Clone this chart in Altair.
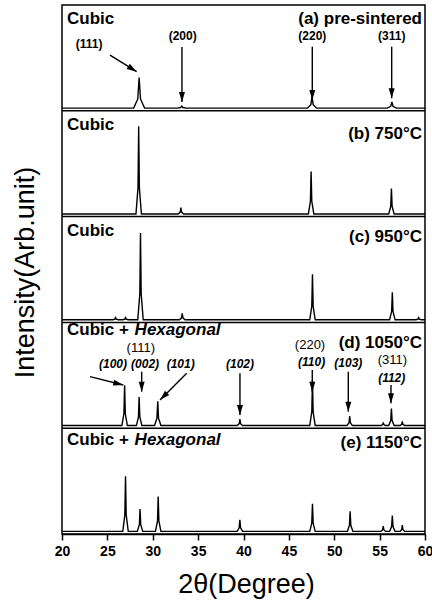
import math
import altair as alt
import pandas as pd

# ---------------- data ----------------
X_MIN, X_MAX = 20, 60
tick_values = [20, 22.5, 25, 27.5, 30, 32.5, 35, 37.5, 40, 42.5, 45,
               47.5, 50, 52.5, 55, 57.5, 60]

# panel index 0 = bottom (e) ... 4 = top (a); each panel spans 100 intensity units
panel_offsets = [0, 100, 200, 300, 400]
divider_levels = [100, 200, 300, 400]
baseline_level = 2.5

# (e) 1150 C
pos_e = [27.0, 28.6, 30.6, 39.6, 47.6, 51.75, 55.4, 56.4, 57.5]
hgt_e = [52, 21, 33, 11, 26, 19, 5, 15, 6]
wid_e = [0.3, 0.3, 0.3, 0.3, 0.3, 0.3, 0.25, 0.3, 0.25]
# (d) 1050 C
pos_d = [26.9, 28.5, 30.55, 39.6, 47.6, 51.7, 55.4, 56.3, 57.5]
hgt_d = [38, 27, 23, 6, 43, 9, 3, 16, 4]
wid_d = [0.3, 0.3, 0.35, 0.3, 0.3, 0.3, 0.25, 0.3, 0.25]
# (c) 950 C
pos_c = [25.9, 27.0, 28.65, 33.25, 47.6, 56.4, 59.3]
hgt_c = [2, 2, 82, 6, 43, 26, 2]
wid_c = [0.3, 0.3, 0.3, 0.3, 0.3, 0.3, 0.3]
# (b) 750 C
pos_b = [28.45, 33.1, 47.45, 56.3]
hgt_b = [83, 6, 40, 24]
wid_b = [0.3, 0.3, 0.3, 0.3]
# (a) pre-sintered
pos_a = [28.5, 33.2, 47.55, 56.35]
hgt_a = [29, 2, 11, 6]
wid_a = [0.6, 0.5, 0.5, 0.5]

peak_sets = [(pos_e, hgt_e, wid_e), (pos_d, hgt_d, wid_d), (pos_c, hgt_c, wid_c),
             (pos_b, hgt_b, wid_b), (pos_a, hgt_a, wid_a)]

# panel labels (data coords)
left_text = ["Cubic", "Cubic", "Cubic", "Cubic +", "Cubic +"]
left_x = [20.55, 20.55, 20.55, 20.55, 20.55]
left_y = [486.3, 386.6, 286.7, 192.8, 88.8]
hex_text = ["Hexagonal", "Hexagonal"]
hex_x = [28.0, 28.0]
hex_y = [192.8, 88.8]
right_text = ["(a) pre-sintered", "(b) 750°C", "(c) 950°C", "(d) 1050°C", "(e) 1150°C"]
right_x = [59.67, 59.67, 59.67, 59.67, 59.67]
right_y = [486.8, 378.1, 281.0, 180.2, 85.7]

# cubic indices, panel (a)
cub_a_text = ["(111)", "(200)", "(220)", "(311)"]
cub_a_x = [22.98, 33.3, 47.58, 56.33]
cub_a_y = [463.0, 471.0, 471.0, 471.0]
# cubic indices, panel (d)
cub_d_text = ["(111)", "(220)", "(311)"]
cub_d_x = [28.68, 47.33, 56.4]
cub_d_y = [175.5, 178.6, 164.5]
# hexagonal indices, panel (d)
hex_d_text = ["(100)", "(002)", "(101)", "(102)", "(110)", "(103)", "(112)"]
hex_d_x = [25.62, 29.15, 33.08, 39.61, 47.51, 51.55, 56.33]
hex_d_y = [160.4, 160.4, 160.4, 160.4, 162.3, 161.3, 147.2]

# arrows (start -> tip), data coords
arr_x1 = [25.29, 33.22, 47.58, 56.33, 23.09, 28.78, 33.74, 39.61, 47.58, 51.55, 56.25]
arr_y1 = [452.7, 460.3, 460.6, 460.6, 148.7, 153.4, 151.9, 151.9, 155.0, 153.4, 140.8]
arr_x2 = [28.23, 33.22, 47.58, 56.33, 26.75, 28.78, 30.80, 39.61, 47.58, 51.55, 56.25]
arr_y2 = [437.0, 408.3, 410.2, 411.8, 140.8, 134.5, 126.7, 112.5, 134.5, 115.6, 123.5]

# ---------------- tables ----------------
rows = []
for i, (pos, hgt, wid) in enumerate(peak_sets):
    off = panel_offsets[i] + baseline_level
    pts = [(X_MIN, off)]
    for p, h, w in sorted(zip(pos, hgt, wid)):
        pts += [(p - w, off), (p - w / 4, off + 0.3 * h), (p, off + h),
                (p + w / 4, off + 0.3 * h), (p + w, off)]
    pts.append((X_MAX, off))
    for k, (x, y) in enumerate(pts):
        rows.append({"panel": i, "order": k, "x": x, "y": y})
line_df = pd.DataFrame(rows)

W, H = 363, 529
px_per_x = W / (X_MAX - X_MIN)
px_per_y = H / 500.0
arr_rows = []
for x1, y1, x2, y2 in zip(arr_x1, arr_y1, arr_x2, arr_y2):
    dx = (x2 - x1) * px_per_x
    dy = -(y2 - y1) * px_per_y
    ang = math.degrees(math.atan2(-dx, dy)) % 360
    arr_rows.append({"x1": x1, "y1": y1, "x2": x2, "y2": y2, "angle": round(ang, 2)})
arr_df = pd.DataFrame(arr_rows)

def tdf(text, xs, ys):
    return pd.DataFrame({"t": text, "x": xs, "y": ys})

FONT = "Liberation Sans"
xs = alt.Scale(domain=[X_MIN, X_MAX], nice=False, zero=False)
ys = alt.Scale(domain=[0, 500], nice=False, zero=False)

x_axis = alt.Axis(values=tick_values,
                  tickSize={"condition": {"test": "datum.value % 5 === 0", "value": 6}, "value": 3},
                  labelExpr="datum.value % 5 === 0 ? datum.label : ''",
                  tickWidth=1.5, tickColor="black",
                  domainColor="black", domainWidth=1.5, grid=False,
                  labelFont=FONT, labelFontSize=14, labelFontWeight="bold",
                  labelColor="black", labelPadding=4, labelFlush=False, labelOverlap=False,
                  title="2θ(Degree)", titleFont=FONT, titleFontSize=27,
                  titleFontWeight="normal", titleColor="black",
                  titleX=184, titleY=58, titleAlign="center",
                  titleBaseline="alphabetic", orient="bottom")
y_axis = alt.Axis(title="Intensity(Arb.unit)", labels=False, ticks=False, domain=False,
                  grid=False, titleFont=FONT, titleFontSize=27, titleFontWeight="normal",
                  titleColor="black", titleAngle=270, titleX=-29, titleY=267,
                  titleAlign="center", titleBaseline="alphabetic", orient="left")

def X(field):
    return alt.X(field, scale=xs, axis=x_axis)

def Y(field):
    return alt.Y(field, scale=ys, axis=y_axis)

lines = alt.Chart(line_df).mark_line(color="black", strokeWidth=1.4).encode(
    x=X("x:Q"),
    y=Y("y:Q"),
    detail="panel:N",
    order="order:Q",
)

dividers = alt.Chart(pd.DataFrame({"lv": divider_levels})).mark_rule(
    color="black", strokeWidth=1.5).encode(
    y=Y("lv:Q"),
    x=alt.datum(X_MIN), x2=alt.datum(X_MAX),
)

arrows = alt.Chart(arr_df).mark_rule(color="black", strokeWidth=1.4).encode(
    x=X("x1:Q"),
    y=Y("y1:Q"),
    x2="x2:Q", y2="y2:Q",
)

heads = alt.Chart(arr_df).mark_point(
    shape="M0,0L-0.3,-1L0.3,-1Z", filled=True, size=400, color="black",
    opacity=1, strokeWidth=0).encode(
    x=X("x2:Q"),
    y=Y("y2:Q"),
    angle=alt.Angle("angle:Q", scale=None),
)

def text_layer(df, size, weight="normal", style="normal", align="left"):
    return alt.Chart(df).mark_text(
        font=FONT, fontSize=size, fontWeight=weight, fontStyle=style,
        align=align, baseline="middle", color="black").encode(
        x=X("x:Q"),
        y=Y("y:Q"),
        text="t:N",
    )

layers = [
    lines, dividers, arrows, heads,
    text_layer(tdf(left_text, left_x, left_y), 17, "bold"),
    text_layer(tdf(hex_text, hex_x, hex_y), 17, "bold", "italic"),
    text_layer(tdf(right_text, right_x, right_y), 17, "bold", align="right"),
    text_layer(tdf(cub_a_text, cub_a_x, cub_a_y), 12, "bold", align="center"),
    text_layer(tdf(cub_d_text, cub_d_x, cub_d_y), 13, "normal", align="center"),
    text_layer(tdf(hex_d_text, hex_d_x, hex_d_y), 12, "bold", "italic", align="center"),
]

chart = alt.layer(*layers).properties(
    width=W, height=H,
    autosize=alt.AutoSizeParams(type="none"),
    padding={"left": 62, "top": 5, "right": 7, "bottom": 69},
    background="white",
).configure_view(stroke="black", strokeWidth=1.5)

chart.save("out.html", embed_options={"renderer": "svg", "actions": False})
